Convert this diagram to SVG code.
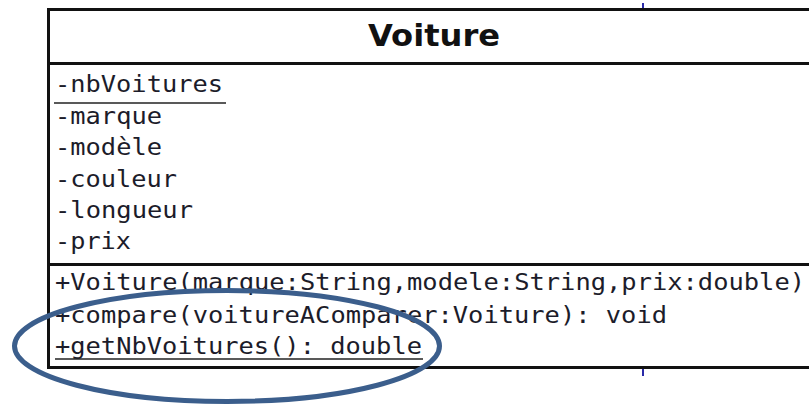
<svg xmlns="http://www.w3.org/2000/svg" width="809" height="404" viewBox="0 0 809 404">
  <style>
    .frame { fill: #ffffff; stroke: #111111; stroke-width: 3; }
    .rule { stroke: #111111; stroke-width: 3; }
    .uline { stroke: #222222; stroke-width: 1.6; }
    .title { font-family: "DejaVu Sans", "Liberation Sans", sans-serif; font-weight: bold; font-size: 31px; fill: #111111; }
    .member { font-family: "DejaVu Sans Mono", "Liberation Mono", monospace; font-size: 23px; fill: #1c1c2a; }
    .tick { stroke: #2a2aa8; stroke-width: 2; }
    .callout { fill: none; stroke: #3b5e8c; stroke-width: 5; }
  </style>

  <!-- class box: Voiture -->
  <g id="voiture">
    <rect class="frame" x="48.5" y="9.5" width="800" height="358"/>
    <line class="rule" x1="48" y1="63.5" x2="809" y2="63.5"/>
    <line class="rule" x1="48" y1="264.5" x2="809" y2="264.5"/>
    <text class="title" x="368" y="46" textLength="132" lengthAdjust="spacingAndGlyphs">Voiture</text>

    <!-- attributes -->
    <text class="member" x="55" y="92" textLength="168" lengthAdjust="spacingAndGlyphs">-nbVoitures</text>
    <line class="uline" x1="54" y1="103" x2="226" y2="103"/>
    <text class="member" x="55" y="123.5" textLength="107" lengthAdjust="spacingAndGlyphs">-marque</text>
    <text class="member" x="55" y="155" textLength="107" lengthAdjust="spacingAndGlyphs">-modèle</text>
    <text class="member" x="55" y="186.5" textLength="122" lengthAdjust="spacingAndGlyphs">-couleur</text>
    <text class="member" x="55" y="218" textLength="138" lengthAdjust="spacingAndGlyphs">-longueur</text>
    <text class="member" x="55" y="249" textLength="76" lengthAdjust="spacingAndGlyphs">-prix</text>

    <!-- operations -->
    <text class="member" x="55" y="290" textLength="750" lengthAdjust="spacingAndGlyphs">+Voiture(marque:String,modele:String,prix:double)</text>
    <text class="member" x="55" y="323" textLength="612" lengthAdjust="spacingAndGlyphs">+compare(voitureAComparer:Voiture): void</text>
    <text class="member" x="55" y="354" textLength="367" lengthAdjust="spacingAndGlyphs">+getNbVoitures(): double</text>
    <line class="uline" x1="55" y1="359" x2="423" y2="359"/>
  </g>

  <!-- small connector stubs above and below the box -->
  <g id="connectors">
    <line class="tick" x1="643" y1="3" x2="643" y2="8"/>
    <line class="tick" x1="643" y1="369" x2="643" y2="376"/>
  </g>

  <!-- highlight ring around the static members -->
  <g id="highlight">
    <ellipse class="callout" cx="227" cy="346" rx="212.5" ry="55.5"/>
  </g>
</svg>
